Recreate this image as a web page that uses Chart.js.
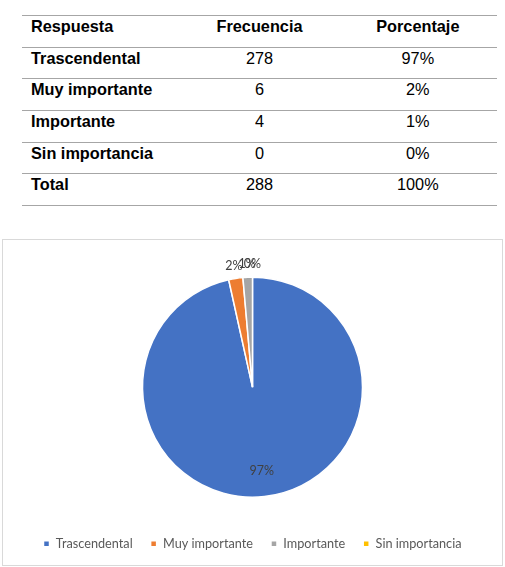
<!DOCTYPE html>
<html>
<head>
<meta charset="utf-8">
<script src="https://cdn.jsdelivr.net/npm/chart.js@4"></script>
<style>
  html, body { margin: 0; padding: 0; background: #fff; }
  body { width: 505px; height: 567px; position: relative; overflow: hidden; }
  #tbl { position: absolute; left: 22px; top: 15px; width: 475px; border-collapse: collapse;
         font-family: "Liberation Sans", Arial, sans-serif; font-size: 16.3px; color: #000; table-layout: fixed; }
  #tbl td { border-top: 1px solid #a6a6a6; border-bottom: 1px solid #a6a6a6; height: 31.67px;
            padding: 0; vertical-align: top; padding-top: 1px; box-sizing: border-box; }
  #tbl td.c { text-align: center; }
  #tbl td.l { padding-left: 9px; font-weight: bold; }
  #tbl tr.h td { font-weight: bold; }
  #box { position: absolute; left: 2px; top: 239px; width: 499px; height: 325px; border: 1px solid #d9d9d9; }
  #wrap { position: absolute; left: 0; top: 0; width: 499px; height: 325px; }
</style>
</head>
<body>
<table id="tbl"></table>
<div id="box"><div id="wrap"><canvas id="c"></canvas></div></div>
<script>
const headers = ["Respuesta", "Frecuencia", "Porcentaje"];
const categories = ["Trascendental", "Muy importante", "Importante", "Sin importancia"];
const frequencies = [278, 6, 4, 0];
const percentLabels = ["97%", "2%", "1%", "0%"];
const totalLabel = "Total";
const totalFrequency = 288;
const totalPercent = "100%";
const colors = ["#4472C4", "#ED7D31", "#A5A5A5", "#FFC000"];

// Build table
const tbl = document.getElementById('tbl');
function addRow(cells, cls) {
  const tr = document.createElement('tr');
  if (cls) tr.className = cls;
  cells.forEach((t, i) => {
    const td = document.createElement('td');
    td.textContent = t;
    td.className = i === 0 ? 'l' : 'c';
    tr.appendChild(td);
  });
  tbl.appendChild(tr);
}
addRow(headers, 'h');
categories.forEach((c, i) => addRow([c, String(frequencies[i]), percentLabels[i]]));
addRow([totalLabel, String(totalFrequency), totalPercent]);

const labelPlugin = {
  id: 'pieLabels',
  afterDatasetsDraw(chart) {
    const ctx = chart.ctx;
    const meta = chart.getDatasetMeta(0);
    const data = chart.data.datasets[0].data;
    const sum = data.reduce((a, b) => a + b, 0);
    ctx.save();
    ctx.font = '12.5px Lato, "Open Sans", sans-serif';
    ctx.fillStyle = '#404040';
    ctx.textAlign = 'center';
    ctx.textBaseline = 'middle';
    meta.data.forEach((arc, i) => {
      const p = arc.getProps(['x', 'y', 'startAngle', 'endAngle', 'outerRadius'], true);
      const mid = (p.startAngle + p.endAngle) / 2;
      const frac = data[i] / sum;
      const d = frac > 0.1 ? p.outerRadius * 0.77 : p.outerRadius + 13;
      ctx.fillText(percentLabels[i], p.x + Math.cos(mid) * d, p.y + Math.sin(mid) * d);
    });
    ctx.restore();
  }
};

new Chart(document.getElementById('c'), {
  type: 'pie',
  data: {
    labels: categories,
    datasets: [{
      data: frequencies,
      backgroundColor: colors,
      borderColor: '#ffffff',
      borderWidth: 1.5,
      radius: 110
    }]
  },
  options: {
    responsive: true,
    maintainAspectRatio: false,
    animation: false,
    layout: { padding: { top: 15, bottom: 5, left: 0, right: 0 } },
    plugins: {
      tooltip: { enabled: false },
      legend: {
        position: 'bottom',
        labels: {
          boxWidth: 6, boxHeight: 6, padding: 18,
          color: '#595959',
          font: { family: 'Lato, "Open Sans", sans-serif', size: 12.7 }
        }
      }
    }
  },
  plugins: [labelPlugin]
});
</script>
</body>
</html>
